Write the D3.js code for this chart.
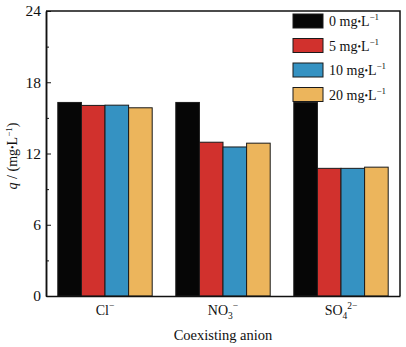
<!DOCTYPE html>
<html>
<head>
<meta charset="utf-8">
<script src="https://cdn.jsdelivr.net/npm/d3@7"></script>
<style>
  body { margin: 0; background: #fff; }
  svg text { font-family: "Liberation Serif", "DejaVu Serif", serif; fill: #111; }
</style>
</head>
<body>
<div id="chart"></div>
<script>
// data
var anions = ['Cl', 'NO3', 'SO4'];
var anionLabels = [
  [['Cl', 0], ['\u2212', 1]],
  [['NO', 0], ['3', -1], ['\u2212', 1]],
  [['SO', 0], ['4', -1], ['2\u2212', 1]]
];
var concentrations = ['0', '5', '10', '20'];
var q0 = [16.3, 16.3, 16.3];
var q5 = [16.05, 12.95, 10.75];
var q10 = [16.07, 12.55, 10.75];
var q20 = [15.85, 12.87, 10.85];
var yTicks = [0, 6, 12, 18, 24];
var yMinorTicks = [3, 9, 15, 21];
var colors = ['#060606', '#d1312d', '#3592c2', '#ecb55c'];

var series = [q0, q5, q10, q20];

// dimensions
var dimensions = {
  width: 406,
  height: 347,
  margin: { top: 11, bottom: 51, left: 46, right: 6 }
};
dimensions.containerWidth = dimensions.width - dimensions.margin.left - dimensions.margin.right;
dimensions.containerHeight = dimensions.height - dimensions.margin.top - dimensions.margin.bottom;

var svg = d3.select('#chart')
  .append('svg')
  .attr('width', dimensions.width)
  .attr('height', dimensions.height)
  .attr('font-family', '"Liberation Serif", serif');

var container = svg.append('g')
  .attr('transform', 'translate(' + dimensions.margin.left + ',' + dimensions.margin.top + ')');

// scales
var xScale = d3.scaleBand()
  .domain(anions)
  .range([0, dimensions.containerWidth])
  .paddingInner(0.2)
  .paddingOuter(0.1);

var subScale = d3.scaleBand()
  .domain(concentrations)
  .range([0, xScale.bandwidth()]);

var yScale = d3.scaleLinear()
  .domain([0, 24])
  .range([dimensions.containerHeight, 0]);

// bars
var groups = container.selectAll('g.group')
  .data(anions)
  .join('g')
  .attr('class', 'group')
  .attr('transform', d => 'translate(' + xScale(d) + ',0)');

groups.selectAll('rect')
  .data((d, i) => concentrations.map((c, j) => ({ c: c, v: series[j][i], j: j })))
  .join('rect')
  .attr('x', d => subScale(d.c))
  .attr('y', d => yScale(d.v))
  .attr('width', subScale.bandwidth())
  .attr('height', d => yScale(0) - yScale(d.v))
  .attr('fill', d => colors[d.j])
  .attr('stroke', '#1a1a1a')
  .attr('stroke-width', 1);

// axes
var yAxis = d3.axisLeft(yScale)
  .tickValues(yTicks)
  .tickSizeInner(-5)
  .tickSizeOuter(0)
  .tickPadding(5);

var yAxisGroup = container.append('g').call(yAxis).attr('font-family', null);
yAxisGroup.selectAll('text').style('font-size', '15.5px');

var yMinor = d3.axisLeft(yScale)
  .tickValues(yMinorTicks)
  .tickSizeInner(-3)
  .tickSizeOuter(0)
  .tickFormat('');
container.append('g').call(yMinor);

var xAxis = d3.axisBottom(xScale)
  .tickSize(0)
  .tickFormat('');

var xAxisGroup = container.append('g')
  .attr('transform', 'translate(0,' + dimensions.containerHeight + ')')
  .call(xAxis)
  .attr('font-family', null);

xAxisGroup.selectAll('.tick').each(function(d, i) {
  var t = d3.select(this).append('text')
    .attr('y', 19)
    .attr('text-anchor', 'middle')
    .style('font-size', '14px');
  anionLabels[i].forEach(function(part) {
    var span = t.append('tspan').text(part[0]);
    if (part[1] === 1) span.attr('dy', -6).style('font-size', '9.5px');
    if (part[1] === -1) span.attr('dy', 4).style('font-size', '9.5px');
    if (part[1] === 1 && i > 0) span.attr('dy', -10);
  });
});

container.selectAll('.domain').attr('stroke', '#111').attr('stroke-width', 1.5);
container.selectAll('.tick line').attr('stroke', '#111');

// frame top / right
container.append('path')
  .attr('d', 'M0,0H' + dimensions.containerWidth + 'V' + dimensions.containerHeight)
  .attr('fill', 'none')
  .attr('stroke', '#111')
  .attr('stroke-width', 1.5);

// axis titles
container.append('text')
  .attr('x', dimensions.containerWidth / 2)
  .attr('y', dimensions.containerHeight + 44)
  .attr('text-anchor', 'middle')
  .style('font-size', '14.5px')
  .text('Coexisting anion');

var yTitle = svg.append('text')
  .attr('transform', 'translate(17,156) rotate(-90)')
  .attr('text-anchor', 'middle')
  .style('font-size', '14px');
yTitle.append('tspan').style('font-style', 'italic').text('q');
yTitle.append('tspan').text(' / (mg');
yTitle.append('tspan').style('font-size', '10px').attr('dy', -1).text('\u2022');
yTitle.append('tspan').attr('dy', 1).text('L');
yTitle.append('tspan').attr('dy', -5).style('font-size', '9px').text('\u22121');
yTitle.append('tspan').attr('dy', 5).text(')');

// legend
var legend = svg.append('g')
  .attr('transform', 'translate(293,14)');

var legendItems = legend.selectAll('g')
  .data(concentrations)
  .join('g')
  .attr('transform', (d, i) => 'translate(0,' + i * 24.5 + ')');

legendItems.append('rect')
  .attr('width', 30)
  .attr('height', 14)
  .attr('fill', (d, i) => colors[i])
  .attr('stroke', '#1a1a1a');

legendItems.each(function(d) {
  var t = d3.select(this).append('text')
    .attr('x', 36)
    .attr('y', 12)
    .style('font-size', '14px');
  t.append('tspan').text(d + ' mg');
  t.append('tspan').style('font-size', '10px').attr('dy', -1).text('\u2022');
  t.append('tspan').attr('dy', 1).text('L');
  t.append('tspan').attr('dy', -6).style('font-size', '9px').text('\u22121');
});
</script>
</body>
</html>
